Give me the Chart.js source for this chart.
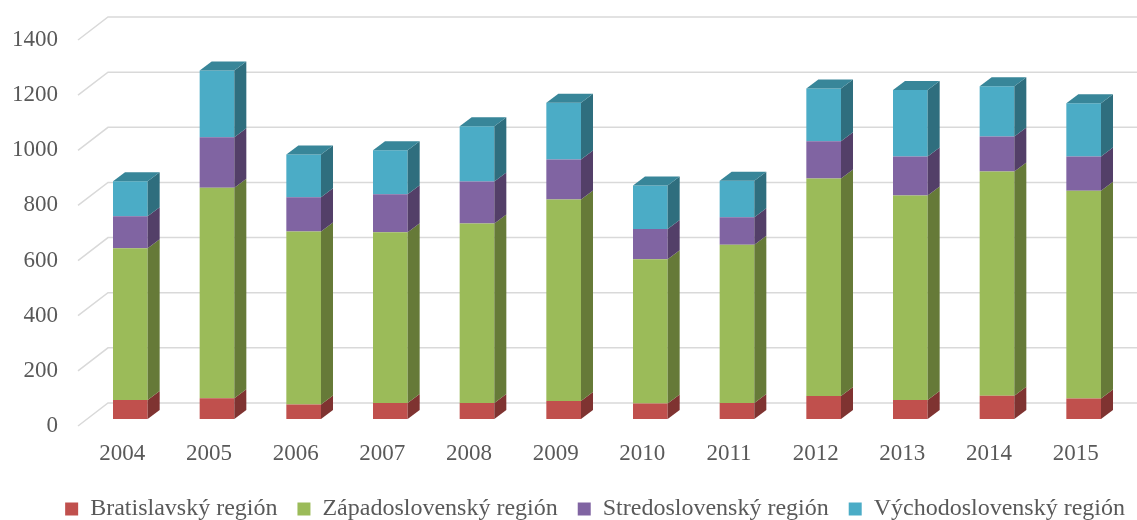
<!DOCTYPE html>
<html>
<head>
<meta charset="utf-8">
<script src="https://cdn.jsdelivr.net/npm/chart.js@4"></script>
<style>
  body { margin: 0; background: #fff; }
</style>
</head>
<body>
<canvas id="regionChart" width="1137" height="520"></canvas>
<script>
// data
var years = ['2004', '2005', '2006', '2007', '2008', '2009', '2010', '2011', '2012', '2013', '2014', '2015'];
var regionNames = ['Bratislavský región', 'Západoslovenský región', 'Stredoslovenský región', 'Východoslovenský región'];
var bratislavsky = [69, 75, 53, 58, 58, 65, 56, 58, 83, 69, 84, 74];
var zapadoslovensky = [550, 764, 627, 619, 651, 731, 523, 574, 789, 742, 814, 754];
var stredoslovensky = [116, 183, 124, 138, 152, 145, 110, 100, 135, 141, 127, 124];
var vychodoslovensky = [127, 242, 155, 160, 201, 206, 158, 132, 192, 241, 182, 193];

// front / side / top face colours
var frontColors = ['#C0504D', '#9BBB59', '#8064A2', '#4BACC6'];
var sideColors = ['#7F3331', '#667A38', '#533F68', '#2F6E7E'];
var topColor = '#388699';

var serif = '"Liberation Serif", "Times New Roman", serif';
var axisFont = { family: serif, size: 23 };
var legendFont = { family: serif, size: 24 };
var textColor = '#595959';

// fake 3d: bar depth and wall offsets (pixels)
var depth = { dx: 12, dy: -9 };
var wall = { dx: 21, dy: -16 };
var front = { dx: -9, dy: 7 };

var walls = {
    id: 'walls',
    beforeDatasetsDraw: function (chart) {
        var ctx = chart.ctx, y = chart.scales.y, left = chart.chartArea.left;
        ctx.save();
        ctx.strokeStyle = '#D9D9D9';
        ctx.lineWidth = 1.5;
        y.ticks.forEach(function (t) {
            var py = y.getPixelForValue(t.value);
            ctx.beginPath();
            ctx.moveTo(left + front.dx, py + front.dy);
            ctx.lineTo(left + wall.dx, py + wall.dy);
            ctx.lineTo(chart.width, py + wall.dy);
            ctx.stroke();
        });
        ctx.restore();
    }
};

var extrude = {
    id: 'extrude',
    afterDatasetsDraw: function (chart) {
        var ctx = chart.ctx;
        var last = chart.data.datasets.length - 1;
        ctx.save();
        chart.data.datasets.forEach(function (ds, i) {
            chart.getDatasetMeta(i).data.forEach(function (bar) {
                var p = bar.getProps(['x', 'y', 'base', 'width'], true);
                var l = p.x - p.width / 2, r = p.x + p.width / 2;
                ctx.fillStyle = sideColors[i];
                ctx.beginPath();
                ctx.moveTo(r, p.y);
                ctx.lineTo(r + depth.dx, p.y + depth.dy);
                ctx.lineTo(r + depth.dx, p.base + depth.dy);
                ctx.lineTo(r, p.base);
                ctx.closePath();
                ctx.fill();
                if (i === last) {
                    ctx.fillStyle = topColor;
                    ctx.beginPath();
                    ctx.moveTo(l, p.y);
                    ctx.lineTo(l + depth.dx, p.y + depth.dy);
                    ctx.lineTo(r + depth.dx, p.y + depth.dy);
                    ctx.lineTo(r, p.y);
                    ctx.closePath();
                    ctx.fill();
                }
            });
        });
        ctx.restore();
    }
};

var series = [bratislavsky, zapadoslovensky, stredoslovensky, vychodoslovensky];

var ctx = document.getElementById('regionChart').getContext('2d');
var chart = new Chart(ctx, {
    type: 'bar',
    data: {
        labels: years,
        datasets: series.map(function (vals, i) {
            return {
                label: regionNames[i],
                data: vals,
                backgroundColor: frontColors[i],
                borderWidth: 0,
                barPercentage: 1,
                categoryPercentage: 0.4
            };
        })
    },
    options: {
        responsive: false,
        devicePixelRatio: 1,
        animation: false,
        layout: { padding: { top: 33, right: -8, bottom: -11, left: 10 } },
        scales: {
            x: {
                stacked: true,
                grid: { display: false, drawTicks: false },
                border: { display: false },
                ticks: { font: axisFont, color: textColor, padding: 21, labelOffset: -8 },
                afterFit: function (scale) { scale.height = 58; }
            },
            y: {
                stacked: true,
                min: 0,
                max: 1400,
                grid: { display: false, drawTicks: false },
                border: { display: false },
                ticks: {
                    stepSize: 200, font: axisFont, color: textColor, padding: 29, labelOffset: 7,
                    callback: function (v) { return String(v); }
                },
                afterFit: function (scale) {
                    scale.width = 77;
                    scale.paddingTop = 0;
                    scale.paddingBottom = 0;
                }
            },
            // empty spacer on the right, keeps the plot narrower than the legend row
            yr: {
                position: 'right',
                grid: { display: false, drawTicks: false },
                border: { display: false },
                ticks: { display: false },
                afterFit: function (scale) { scale.width = 18; }
            }
        },
        plugins: {
            legend: {
                position: 'bottom',
                align: 'end',
                labels: { boxWidth: 13, boxHeight: 13, padding: 20, font: legendFont, color: textColor }
            },
            tooltip: { enabled: false }
        }
    },
    plugins: [walls, extrude]
});
</script>
</body>
</html>
